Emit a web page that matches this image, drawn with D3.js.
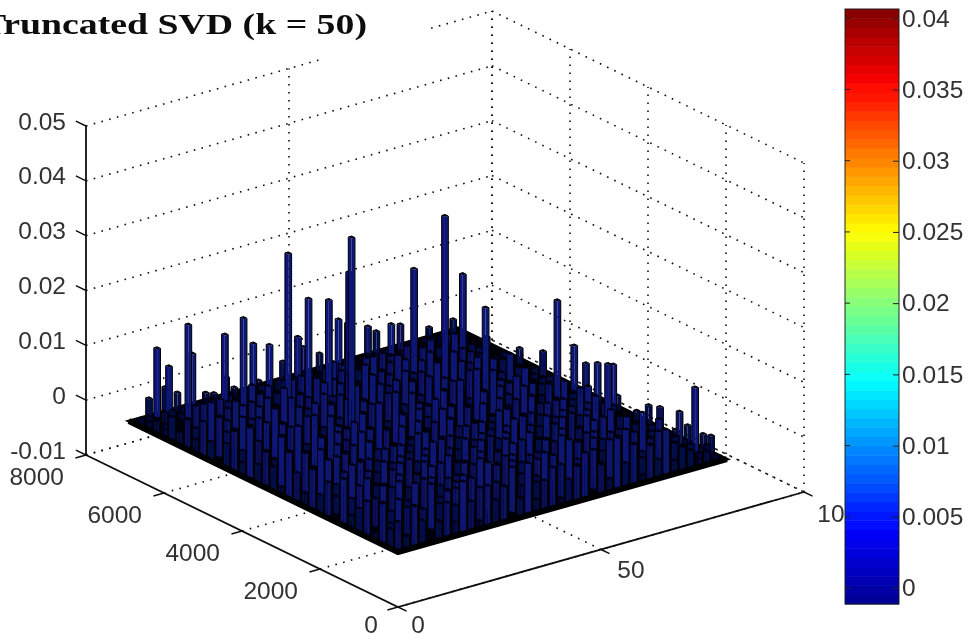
<!DOCTYPE html>
<html>
<head>
<meta charset="utf-8">
<script src="https://cdn.jsdelivr.net/npm/d3@7"></script>
<style>
  body { margin: 0; background: #fff; }
  text { font-family: "Liberation Sans", sans-serif; fill: #333; }
</style>
</head>
<body>
<div id="vis"></div>
<script>
// tick labels
const zTicks = [-0.01, 0, 0.01, 0.02, 0.03, 0.04, 0.05];
const zTickLabels = ["-0.01", "0", "0.01", "0.02", "0.03", "0.04", "0.05"];
const yTicks = [0, 2000, 4000, 6000, 8000];
const yTickLabels = ["0", "2000", "4000", "6000", "8000"];
const xTicks = [0, 50, 100];
const xTickLabels = ["0", "50", "10"];
const cbTicks = [0, 0.005, 0.01, 0.015, 0.02, 0.025, 0.03, 0.035, 0.04];
const cbTickLabels = ["0", "0.005", "0.01", "0.015", "0.02", "0.025", "0.03", "0.035", "0.04"];

// extent of the bar block (column number, row number x 100 = y value)
const blockCols = 81;
const blockRows = 69;

// tall bars
const spikeCols = [4, 6, 8, 7, 11, 6, 7, 18, 20, 15, 23, 25, 10, 22, 31, 26, 37, 21, 33, 42, 26, 46, 31, 43, 53, 36, 27, 56, 60, 56, 64, 52, 73, 50, 77, 64, 60,
  78, 78, 70, 78, 78, 78, 70, 78, 80, 80, 78, 78, 78, 80, 80, 80];
const spikeRows = [68, 68, 68, 66, 68, 60, 60, 68, 68, 60, 68, 68, 50, 60, 68, 60, 68, 50, 60, 68, 50, 68, 50, 60, 68, 50, 40, 66, 68, 60, 66, 50, 68, 40, 66, 50, 40,
  50, 44, 32, 36, 33, 30, 19, 26, 27, 19, 14, 9, 5, 5, 3, 9];
const spikeHeights = [0.0037, 0.0124, 0.0049, 0.0096, 0.0033, 0.0195, 0.014, 0.0018, 0.0013, 0.0158, 0.0036, 0.0013, 0.0233, 0.0127, 0.0013, 0.0116, 0.0035, 0.0328, 0.0116, 0.0051, 0.0235, 0.0031, 0.0222, 0.0127, 0.0071, 0.0262, 0.0379, 0.0066, 0.0042, 0.0091, 0.0053, 0.0235, 0.0022, 0.037, 0.0035, 0.02, 0.0182,
  0.0036, 0.0051, 0.0202, 0.0089, 0.0067, 0.0078, 0.0131, 0.0089, 0.0025, 0.0035, 0.0053, 0.0062, 0.012, 0.0031, 0.0035, 0.0033];

// low bars, one string per second row (front to back), one digit per second column, unit 0.001
const lowBarRows = [
  "5274036295174603925714680529471638243121",
  "3816502749361058274936150728496357142312",
  "7305928416073952816407395281640735243211",
  "1649370825614937082561493708256149372310",
  "6082745193608274519360827451936082534221",
  "4957180362495718036249571803624957143112",
  "2730659148273065914827306591482730542321",
  "8416092735841609273584160927358416033211",
  "0592743681059274368105927436810592344120",
  "6371850429637185042963718504296371243211",
  "3940617285304961728530496172853049153212",
  "7158204936715820493671582049367158234111",
  "2693071584269307158426930715842693142320",
  "5016482793501648279350164827935016433211",
  "8374925016837492501683749250168374242110",
  "1725063849172506384917250638491725143221",
  "4960317285496031728549603172854960332111",
  "6283940517628394051762839405176283243210",
  "3517260948351726094835172609483517134211",
  "9042875361904287536190428753619042233120",
  "2658143079265814307926581430792658343211",
  "7301596482730159648273015964827301242110",
  "4186720395418672039541867203954186133221",
  "0529384716052938471605293847160529344111",
  "3764051829376405182937640518293764232110",
  "6912847305691284730569128473056912143211",
  "2045613978204561397820456139782045332120",
  "5372706143537270614753727061435372243111",
  "2461035264124603526412460352641246132110",
  "4120352413041235241304123524130412322110",
  "1304213042130421304213042130421304121110",
  "2130120312021301203120213012031202111010",
  "1021102012110201211020121102012110101010",
  "1101011010110101101011010110101101010110"
];

const width = 970, height = 639;

const svg = d3.select("#vis")
.append("svg")
.attr("width", width)
.attr("height", height)
.style("display", "block");

svg.append("defs").append("filter")
.attr("id", "soft")
.append("feGaussianBlur")
.attr("stdDeviation", 0.4);

const root = svg.append("g").attr("filter", "url(#soft)");

// the 3D box is three linear scales added together
const xToPx = d3.scaleLinear().domain([0, 100]).range([0, 406]);
const xToPy = d3.scaleLinear().domain([0, 100]).range([0, -115]);
const yToPx = d3.scaleLinear().domain([0, 8000]).range([0, -312]);
const yToPy = d3.scaleLinear().domain([0, 8000]).range([0, -152]);
const zToPy = d3.scaleLinear().domain([-0.01, 0.05]).range([0, -329]);
const origin = [398, 607];

function project(x, y, z) {
  return [origin[0] + xToPx(x) + yToPx(y), origin[1] + xToPy(x) + yToPy(y) + zToPy(z)];
}

const line = d3.line();
const zMin = -0.01, zMax = 0.05, xMax = 100, yMax = 8000;

//dotted grid
function grid(a, b) {
  root.append("path")
  .attr("d", line([a, b]))
  .attr("fill", "none")
  .attr("stroke", "#111")
  .attr("stroke-width", 1.6)
  .attr("stroke-dasharray", "1.6 6.4");
}

zTicks.forEach(function (z) {
  if (z == zMax) {
    // the top line of this wall has a gap in the picture
    grid(project(0, yMax, z), project(58, yMax, z));
    grid(project(85, yMax, z), project(xMax, yMax, z));
  } else {
    grid(project(0, yMax, z), project(xMax, yMax, z));
  }
  grid(project(xMax, yMax, z), project(xMax, 0, z));
});
xTicks.slice(1).forEach(function (x) {
  grid(project(x, yMax, zMin), project(x, yMax, zMax));
  grid(project(x, 0, zMin), project(x, yMax, zMin));
});
yTicks.forEach(function (y) {
  grid(project(xMax, y, zMin), project(xMax, y, zMax));
  grid(project(0, y, zMin), project(xMax, y, zMin));
});

// axes
root.append("path")
.attr("d", line([project(0, yMax, zMax), project(0, yMax, zMin), project(0, 0, zMin), project(xMax, 0, zMin)]))
.attr("fill", "none")
.attr("stroke", "#111")
.attr("stroke-width", 1.8);

function tick(a, b) {
  root.append("path")
  .attr("d", line([a, b]))
  .attr("fill", "none")
  .attr("stroke", "#111")
  .attr("stroke-width", 1.4);
}
zTicks.forEach(z => tick(project(0, yMax, z), project(0, yMax + 260, z)));
yTicks.forEach(y => tick(project(0, y, zMin), project(-2.6, y, zMin)));
xTicks.forEach(x => tick(project(x, 0, zMin), project(x, -220, zMin)));

// floor of the block
root.append("path")
.attr("d", line([project(0, 0, 0), project(blockCols, 0, 0), project(blockCols, blockRows * 100, 0), project(0, blockRows * 100, 0)]) + "Z")
.attr("fill", "#010108")
.attr("stroke", "#000")
.attr("stroke-width", 3);

// collect bars, far ones first so near ones paint over them
const bars = [];
spikeCols.forEach((c, i) => bars.push({col: c, row: spikeRows[i], z: spikeHeights[i]}));
lowBarRows.forEach((s, j) => {
  s.split("").forEach((ch, i) => {
    if (+ch > 0) bars.push({col: 2 * i + 1, row: 2 * j + 1, z: +ch * 0.001});
  });
});
bars.sort((a, b) => (b.col + b.row) - (a.col + a.row));

// taller bars catch a little more of the blue
const faceLeft = d3.scaleLinear().domain([0.001, 0.009]).range(["#03052a", "#0a1478"]).clamp(true);
const faceRight = d3.scaleLinear().domain([0.001, 0.009]).range(["#040738", "#0a1870"]).clamp(true);

const halfW = 0.42;
const barG = root.append("g");

bars.forEach(function (d) {
  let x0 = d.col - halfW, x1 = d.col + halfW;
  let y0 = (d.row - halfW) * 100, y1 = (d.row + halfW) * 100;
  barG.append("path")
  .attr("d", line([project(x0, y0, 0), project(x0, y1, 0), project(x0, y1, d.z), project(x0, y0, d.z)]) + "Z")
  .attr("fill", faceLeft(d.z));
  barG.append("path")
  .attr("d", line([project(x0, y0, 0), project(x1, y0, 0), project(x1, y0, d.z), project(x0, y0, d.z)]) + "Z")
  .attr("fill", faceRight(d.z));
  barG.append("path")
  .attr("d", line([project(x0, y0, d.z), project(x1, y0, d.z), project(x1, y1, d.z), project(x0, y1, d.z)]) + "Z")
  .attr("fill", "#02021c");
  barG.append("path")
  .attr("d", line([project(x0, y1, 0), project(x0, y1, d.z), project(x1, y1, d.z), project(x1, y0, d.z), project(x1, y0, 0)]))
  .attr("fill", "none")
  .attr("stroke", "#000006")
  .attr("stroke-width", 1);
});

// dark band along the two front edges, the lowest bars merge there
root.append("path")
.attr("d", line([project(0, blockRows * 100, 0), project(0, 0, 0), project(blockCols, 0, 0)]))
.attr("fill", "none")
.attr("stroke", "#000004")
.attr("stroke-width", 6);

// axis labels, offsets from the tick they belong to
function label(p, str, dx, dy, anchor) {
  root.append("text")
  .attr("x", p[0] + dx)
  .attr("y", p[1] + dy)
  .attr("text-anchor", anchor)
  .attr("dominant-baseline", "central")
  .style("font-size", "24.5px")
  .text(str);
}
zTicks.forEach((z, i) => label(project(0, yMax, z), zTickLabels[i], -20, -5, "end"));
yTicks.forEach((y, i) => {
  if (y == 0) label(project(0, y, zMin), yTickLabels[i], -20, 17, "end");
  else label(project(0, y, zMin), yTickLabels[i], -22, 21, "end");
});
label(project(0, 0, zMin), xTickLabels[0], 20, 17, "middle");
label(project(50, 0, zMin), xTickLabels[1], 30, 20, "middle");
label(project(100, 0, zMin), xTickLabels[2], 27, 21, "middle");

// title runs off the left edge like in the picture, and is stretched wide
root.append("text")
.attr("transform", "translate(367,34) scale(1.26,1)")
.attr("text-anchor", "end")
.style("font-family", "'Liberation Serif', serif")
.style("font-weight", "bold")
.style("font-size", "30px")
.style("fill", "#111")
.text("Truncated SVD (k = 50)");

// colorbar
const cbX = 845, cbW = 54, cbTop = 9, cbBottom = 604;
const cbScale = d3.scaleLinear().domain([-0.00112, 0.04065]).range([cbBottom, cbTop]);
const jet = d3.scaleLinear()
.domain([0, 1 / 8, 3 / 8, 5 / 8, 7 / 8, 1])
.range(["#00008f", "#0000ff", "#00ffff", "#ffff00", "#ff0000", "#800000"]);

const cbG = root.append("g");
const cbSteps = d3.range(64);
cbG.selectAll("rect")
.data(cbSteps)
.join("rect")
.attr("x", cbX)
.attr("width", cbW)
.attr("y", d => cbBottom - (d + 1) * (cbBottom - cbTop) / 64)
.attr("height", (cbBottom - cbTop) / 64 + 0.5)
.attr("fill", d => jet((d + 0.5) / 64));

cbG.append("rect")
.attr("x", cbX)
.attr("y", cbTop)
.attr("width", cbW)
.attr("height", cbBottom - cbTop)
.attr("fill", "none")
.attr("stroke", "#222")
.attr("stroke-width", 1);

const cbAxis = d3.axisRight(cbScale)
.tickValues(cbTicks)
.tickSize(-6)
.tickPadding(3)
.tickFormat((d, i) => cbTickLabels[i]);

const cbAxisG = root.append("g")
.attr("transform", `translate(${cbX + cbW},0)`)
.call(cbAxis);
cbAxisG.select(".domain").remove();
cbAxisG.selectAll("text").style("font-size", "24.5px").attr("fill", "#333");
cbAxisG.selectAll("line").attr("stroke", "#222");

cbTicks.forEach(t => {
  root.append("path")
  .attr("d", line([[cbX, cbScale(t)], [cbX + 5, cbScale(t)]]))
  .attr("stroke", "#222");
});
</script>
</body>
</html>
